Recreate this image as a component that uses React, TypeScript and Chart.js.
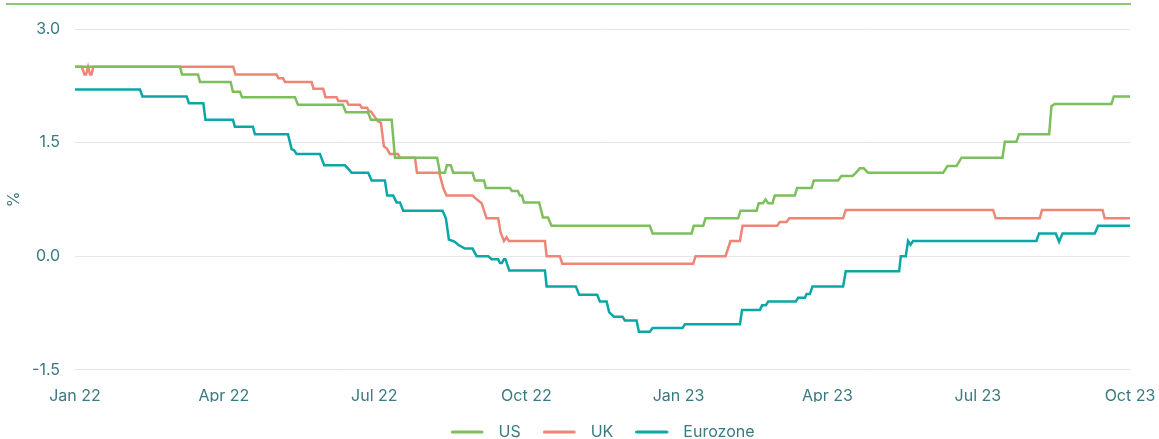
import React, { useEffect, useRef } from 'react';
import { Chart, registerables } from 'chart.js';

Chart.register(...registerables);

// x values are days since 1 Jan 2022
const tickDays = [0, 90, 181, 273, 365, 455, 546, 638];
const tickLabels = ['Jan 22', 'Apr 22', 'Jul 22', 'Oct 22', 'Jan 23', 'Apr 23', 'Jul 23', 'Oct 23'];

const seriesNames = ['US', 'UK', 'Eurozone'];
const seriesColors = ['#7dbf5c', '#ee8576', '#0ba6a6'];

const usDays = [0, 63.5, 64.7, 74.4, 75.6, 94.1, 95.5, 99.8, 101.0, 133.0, 134.8, 162.0, 163.8, 177.1, 179.0, 191.5, 193.5, 219.0, 220.7, 223.7, 224.9, 227.3, 228.7, 240.4, 241.8, 247.3, 248.5, 263.0, 264.2, 267.8, 269.0, 270.3, 271.5, 280.7, 283.0, 286.0, 288.2, 347.6, 349.3, 372.9, 374.2, 379.9, 381.3, 401.0, 402.5, 412.2, 413.5, 416.0, 417.6, 419.2, 421.8, 423.2, 435.3, 436.7, 445.4, 446.8, 461.5, 463.5, 470.2, 472.2, 474.6, 477.0, 479.6, 525.0, 527.6, 533.1, 536.1, 560.9, 562.3, 569.3, 570.9, 589.1, 590.5, 592.5, 626.8, 628.2, 638];
const usValues = [2.5, 2.5, 2.4, 2.4, 2.3, 2.3, 2.17, 2.17, 2.1, 2.1, 2.0, 2.0, 1.9, 1.9, 1.8, 1.8, 1.3, 1.3, 1.1, 1.1, 1.2, 1.2, 1.1, 1.1, 1.0, 1.0, 0.9, 0.9, 0.86, 0.86, 0.8, 0.8, 0.71, 0.71, 0.51, 0.51, 0.4, 0.4, 0.3, 0.3, 0.4, 0.4, 0.5, 0.5, 0.6, 0.6, 0.7, 0.7, 0.75, 0.7, 0.7, 0.8, 0.8, 0.9, 0.9, 1.0, 1.0, 1.06, 1.06, 1.1, 1.16, 1.16, 1.1, 1.1, 1.19, 1.19, 1.3, 1.3, 1.51, 1.51, 1.61, 1.61, 1.98, 2.01, 2.01, 2.11, 2.11];

const ukDays = [0, 4.1, 5.7, 6.7, 7.9, 9.1, 10.0, 11.1, 95.7, 97.0, 121.9, 123.0, 125.8, 127.0, 143.1, 144.2, 150.1, 151.5, 158.2, 159.3, 164.3, 165.4, 172.3, 173.5, 176.7, 177.8, 179.0, 183.2, 185.0, 186.8, 188.6, 190.4, 195.3, 196.5, 205.6, 206.8, 220.3, 222.7, 224.7, 240.4, 242.9, 245.9, 248.9, 255.9, 257.4, 259.4, 261.0, 262.4, 284.2, 285.2, 293.2, 294.7, 373.8, 375.3, 393.4, 396.4, 402.1, 403.7, 424.6, 426.2, 430.3, 431.9, 464.5, 466.1, 555.2, 556.8, 583.4, 584.8, 621.4, 622.7, 638];
const ukValues = [2.5, 2.5, 2.4, 2.4, 2.5, 2.4, 2.4, 2.5, 2.5, 2.4, 2.4, 2.35, 2.35, 2.3, 2.3, 2.21, 2.21, 2.1, 2.1, 2.05, 2.05, 2.0, 2.0, 1.96, 1.96, 1.91, 1.91, 1.78, 1.76, 1.45, 1.42, 1.35, 1.35, 1.3, 1.3, 1.1, 1.1, 0.9, 0.8, 0.8, 0.75, 0.7, 0.5, 0.5, 0.31, 0.2, 0.25, 0.2, 0.2, 0.0, 0.0, -0.1, -0.1, 0.0, 0.0, 0.2, 0.2, 0.4, 0.4, 0.45, 0.45, 0.5, 0.5, 0.61, 0.61, 0.5, 0.5, 0.61, 0.61, 0.5, 0.5];

const ezDays = [0, 39.3, 40.8, 67.5, 68.9, 77.6, 78.9, 95.5, 96.7, 107.6, 108.8, 128.8, 131.0, 132.4, 134.0, 148.1, 150.7, 163.2, 165.2, 167.3, 177.3, 179.4, 187.4, 188.8, 192.4, 194.5, 196.5, 198.5, 222.3, 224.3, 226.1, 229.7, 231.7, 235.8, 240.4, 242.9, 249.9, 251.9, 255.9, 257.0, 258.2, 259.4, 260.3, 262.6, 284.2, 285.2, 302.9, 304.9, 315.8, 317.4, 321.5, 323.0, 325.9, 331.1, 332.5, 339.6, 341.0, 347.6, 349.3, 367.4, 368.8, 402.1, 403.4, 414.2, 415.5, 417.8, 419.2, 435.9, 437.3, 441.4, 442.4, 444.4, 446.0, 464.5, 466.1, 498.4, 499.4, 502.4, 503.8, 505.3, 506.8, 581.4, 583.0, 593.1, 595.1, 597.2, 616.7, 618.7, 638];
const ezValues = [2.2, 2.2, 2.11, 2.11, 2.02, 2.02, 1.8, 1.8, 1.71, 1.71, 1.61, 1.61, 1.41, 1.4, 1.35, 1.35, 1.2, 1.2, 1.155, 1.1, 1.1, 1.0, 1.0, 0.8, 0.8, 0.71, 0.71, 0.6, 0.6, 0.5, 0.22, 0.19, 0.15, 0.1, 0.1, 0.0, 0.0, -0.04, -0.04, -0.09, -0.09, -0.04, -0.04, -0.19, -0.19, -0.4, -0.4, -0.51, -0.51, -0.6, -0.6, -0.74, -0.8, -0.8, -0.85, -0.85, -1.0, -1.0, -0.95, -0.95, -0.9, -0.9, -0.71, -0.71, -0.65, -0.65, -0.6, -0.6, -0.55, -0.55, -0.5, -0.5, -0.4, -0.4, -0.2, -0.2, 0.0, 0.0, 0.2, 0.15, 0.2, 0.2, 0.3, 0.3, 0.19, 0.3, 0.3, 0.4, 0.4];

const textColor = '#3a7a80';
const gridColor = '#e6e6e6';
const fontFamily = 'Inter, "Noto Sans", sans-serif';

function legendLine(color: string) {
  const c = document.createElement('canvas');
  c.width = 40;
  c.height = 4;
  const g = c.getContext('2d')!;
  g.strokeStyle = color;
  g.lineWidth = 3;
  g.lineCap = 'round';
  g.beginPath();
  g.moveTo(1.5, 2);
  g.lineTo(31.5, 2);
  g.stroke();
  return c;
}

export default function App() {
  const ref = useRef<HTMLCanvasElement>(null);

  useEffect(() => {
    const canvas = ref.current!;
    const images = seriesColors.map(legendLine);
    const toPoints = (days: number[], values: number[]) => days.map((d, i) => ({ x: d, y: values[i] }));
    const all = [
      toPoints(usDays, usValues),
      toPoints(ukDays, ukValues),
      toPoints(ezDays, ezValues),
    ];
    const font = { family: fontFamily, size: 16 };

    const chart = new Chart(canvas, {
      type: 'line',
      data: {
        datasets: all.map((pts, i) => ({
          label: seriesNames[i],
          data: pts,
          borderColor: seriesColors[i],
          backgroundColor: seriesColors[i],
          borderWidth: 2.5,
          pointRadius: 0,
          tension: 0,
          fill: false,
        })),
      },
      options: {
        responsive: false,
        animation: false,
        events: [],
        layout: { padding: { top: 29, right: 29, bottom: 0, left: 0 } },
        plugins: {
          tooltip: { enabled: false },
          legend: {
            position: 'bottom',
            fullSize: false,
            labels: {
              usePointStyle: true,
              pointStyleWidth: 40,
              padding: 22,
              color: textColor,
              font,
              generateLabels: (ch: any) => {
                const items = (Chart.defaults.plugins.legend.labels as any).generateLabels(ch);
                items.forEach((it: any, i: number) => {
                  it.pointStyle = images[i];
                });
                return items;
              },
            },
          },
        },
        scales: {
          x: {
            type: 'linear',
            min: 0,
            max: 638,
            afterBuildTicks: (s: any) => {
              s.ticks = tickDays.map((v) => ({ value: v }));
            },
            afterFit: (s: any) => {
              s.height = 32.3;
              s.paddingLeft = 0;
              s.paddingRight = 0;
            },
            grid: { display: false, drawTicks: false },
            border: { display: false },
            ticks: {
              autoSkip: false,
              maxRotation: 0,
              padding: 17,
              color: textColor,
              font,
              callback: (v: any) => {
                const k = tickDays.indexOf(Number(v));
                return k >= 0 ? tickLabels[k] : '';
              },
            },
          },
          y: {
            min: -1.5,
            max: 3,
            afterFit: (s: any) => {
              s.width = 75;
              s.paddingTop = 0;
              s.paddingBottom = 0;
            },
            grid: { color: gridColor, lineWidth: 1, drawTicks: false },
            border: { display: false },
            ticks: {
              stepSize: 1.5,
              padding: 15,
              color: textColor,
              font,
              callback: (v: any) => Number(v).toFixed(1),
            },
            title: {
              display: true,
              text: '%',
              color: textColor,
              font,
              padding: { top: 5, bottom: 0 },
            },
          },
        },
      } as any,
    });
    return () => chart.destroy();
  }, []);

  return (
    <div style={{ position: 'absolute', left: 0, top: 0, width: 1159, height: 439, overflow: 'hidden', background: '#fff' }}>
      <div style={{ position: 'absolute', left: 6, top: 3, width: 1125, height: 2, background: '#8cc873' }} />
      <canvas ref={ref} width={1159} height={450} style={{ display: 'block' }} />
    </div>
  );
}
